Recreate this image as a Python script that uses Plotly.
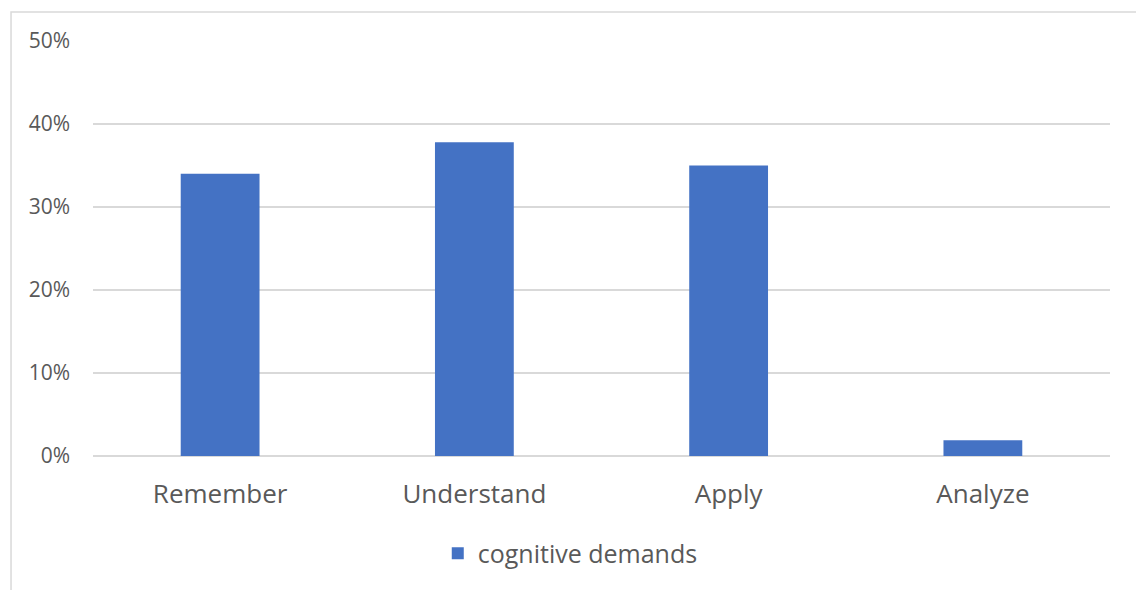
import plotly.graph_objects as go

categories = ["Remember", "Understand", "Apply", "Analyze"]
shares = [0.34, 0.378, 0.35, 0.019]
series_name = "cognitive demands"
y_ticks = [0, 0.1, 0.2, 0.3, 0.4, 0.5]
y_tick_labels = ["0%", "10%", "20%", "30%", "40%", "50%"]

FONT = "Open Sans, Noto Sans, sans-serif"
TEXT = "#595959"
GRID = "#d9d9d9"

fig = go.Figure()
fig.add_trace(go.Bar(
    x=categories,
    y=shares,
    name=series_name,
    marker=dict(color="#4472C4", line=dict(width=0)),
    showlegend=True,
))

fig.update_layout(
    width=1136,
    height=590,
    margin=dict(l=93, r=26, t=41, b=134),
    paper_bgcolor="white",
    plot_bgcolor="white",
    bargap=0.69,
    font=dict(family=FONT, color=TEXT),
    showlegend=True,
    legend=dict(
        orientation="h",
        x=0.339, xanchor="left",
        y=-0.235, yanchor="middle",
        font=dict(size=25, color=TEXT, family=FONT),
        itemwidth=30,
        bgcolor="rgba(0,0,0,0)",
    ),
    xaxis=dict(
        showgrid=False,
        showline=False,
        ticks="",
        tickfont=dict(size=26, color=TEXT, family=FONT),
        ticklabelstandoff=20,
    ),
    yaxis=dict(
        range=[0, 0.5],
        tickvals=y_ticks,
        ticktext=y_tick_labels,
        showgrid=True,
        gridcolor=GRID,
        gridwidth=1.5,
        zeroline=True,
        zerolinecolor=GRID,
        zerolinewidth=1.5,
        showline=False,
        ticks="",
        tickfont=dict(size=21, color=TEXT, family=FONT),
        ticklabelstandoff=22,
    ),
    shapes=[dict(
        type="rect",
        xref="paper", yref="paper",
        x0=-0.0806, x1=1.2,
        y0=-0.6, y1=1.0699,
        line=dict(color=GRID, width=1.5),
        fillcolor="rgba(0,0,0,0)",
        layer="below",
    )],
)

fig.write_html("out.html")
